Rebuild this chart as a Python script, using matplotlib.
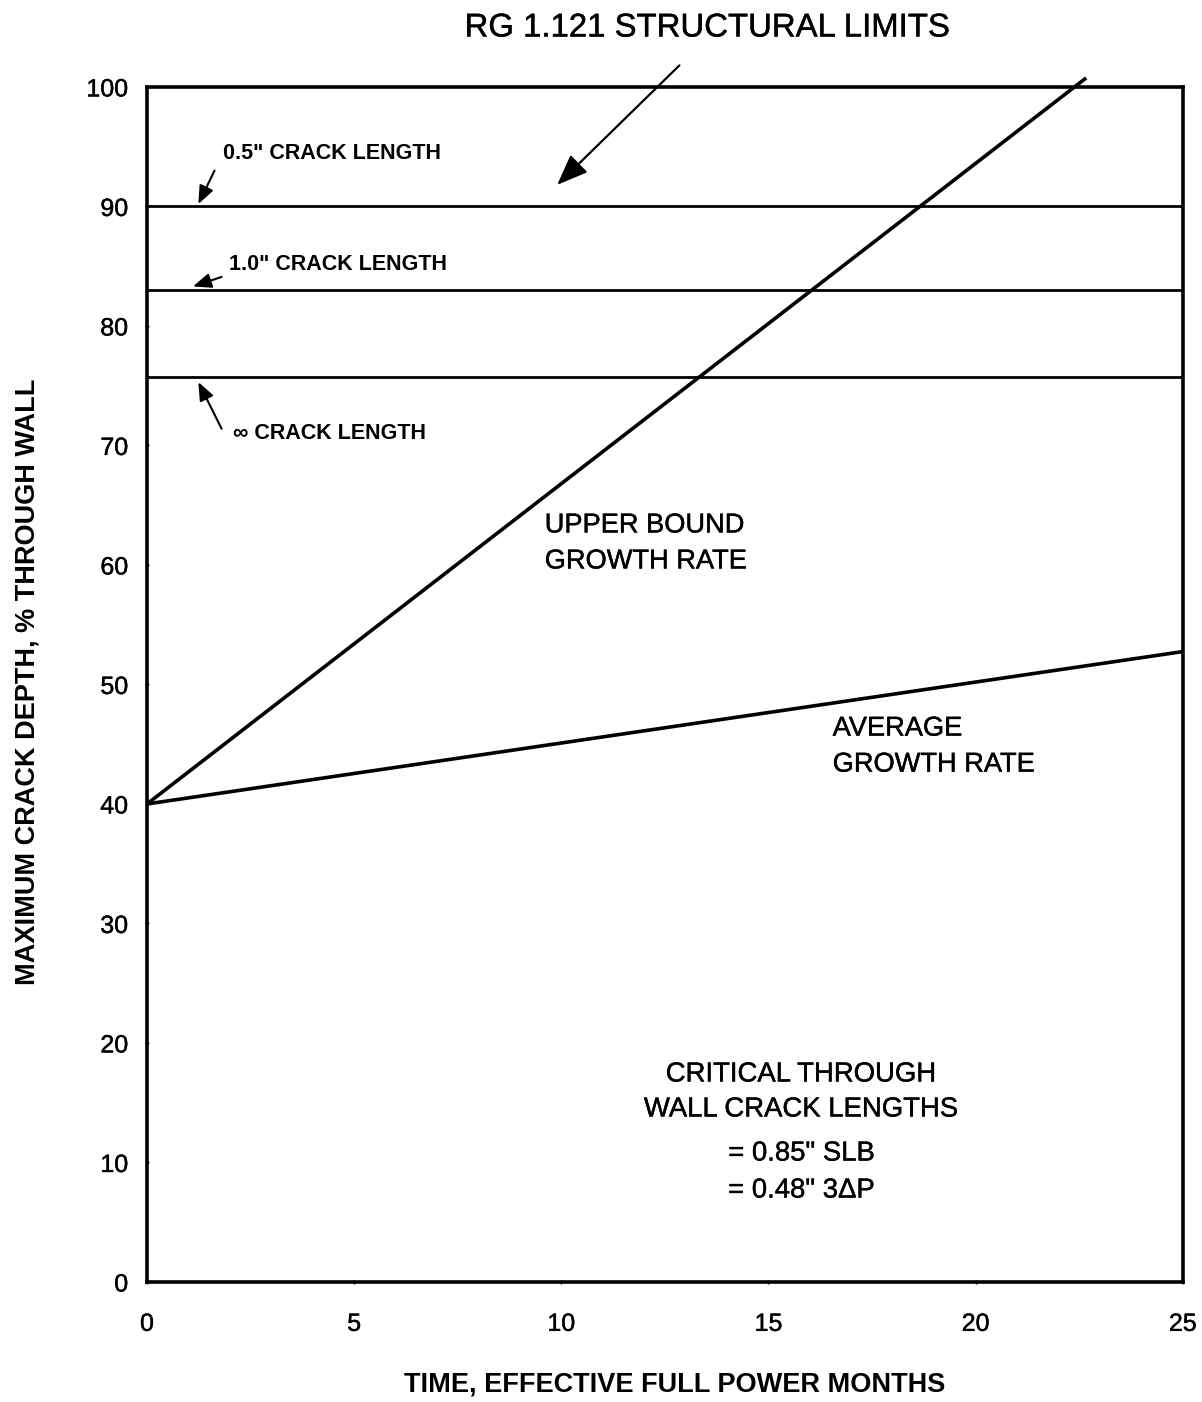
import matplotlib
matplotlib.use("Agg")
import matplotlib.pyplot as plt
import matplotlib.patheffects as pe
import numpy as np

plt.rcParams['font.family'] = ['Liberation Sans', 'DejaVu Sans']

# Crack growth projections (% through wall vs. EFPM)
initial_depth = 40.0
upper_bound_rate = 2.68     # % per month
average_rate = 0.51         # % per month
upper_end_month = 22.67
average_end_month = 25.0

# Structural limits (% through wall) for each crack length
limit_labels = ['0.5" CRACK LENGTH', '1.0" CRACK LENGTH', '\u221e CRACK LENGTH']
limit_depths = [90.0, 83.0, 75.7]

x_ticks = [0, 5, 10, 15, 20, 25]
y_ticks = [0, 10, 20, 30, 40, 50, 60, 70, 80, 90, 100]

# slightly heavier strokes for the regular-weight lettering
heavy = [pe.withStroke(linewidth=0.3, foreground='black')]

fig = plt.figure(figsize=(12.02, 14.02), dpi=100)
ax = fig.add_axes([0.1223, 0.0856, 0.8617, 0.8524])
ax.set_xlim(0, 25)
ax.set_ylim(0, 100)

for d in limit_depths:
    ax.axhline(d, color='black', lw=2.0)

t_up = np.array([0.0, upper_end_month])
ax.plot(t_up, initial_depth + upper_bound_rate * t_up, color='black', lw=2.6,
        clip_on=False, solid_capstyle='butt')
t_av = np.array([0.0, average_end_month])
ax.plot(t_av, initial_depth + average_rate * t_av, color='black', lw=2.6)

for s in ax.spines.values():
    s.set_linewidth(2.6)

ax.set_xticks(x_ticks)
ax.set_yticks(y_ticks)
ax.tick_params(length=3, width=1, direction='inout', labelsize=18)
ax.tick_params(axis='y', pad=12)
ax.tick_params(axis='x', pad=20)
for lab in ax.get_xticklabels() + ax.get_yticklabels():
    lab.set_path_effects(heavy)

# Axis titles
fig.text(675 / 1202, 1 - 1385 / 1402, 'TIME, EFFECTIVE FULL POWER MONTHS',
         fontsize=19.5, fontweight='bold', ha='center', va='center')
fig.text(28 / 1202, 1 - 682 / 1402, 'MAXIMUM CRACK DEPTH, % THROUGH WALL',
         fontsize=19.5, fontweight='bold', ha='center', va='center', rotation=90)

# Title annotation with arrow to the limit lines
fig.text(707 / 1202, 1 - 28 / 1402, 'RG 1.121 STRUCTURAL LIMITS', fontsize=23.7,
         ha='center', va='center', path_effects=heavy)
ax.annotate('', xy=(9.9, 91.8), xytext=(12.85, 101.8), xycoords='data',
            annotation_clip=False,
            arrowprops=dict(arrowstyle='-|>,head_length=1.9,head_width=0.75',
                            color='black', lw=1.6, shrinkA=0, shrinkB=0))

# Crack length labels with pointing arrows
label_pos = [(1.84, 94.4), (1.98, 85.1), (2.08, 71.0)]
arrow_from = [(1.63, 93.0), (1.8, 84.1), (1.8, 71.4)]
arrow_to = [(1.24, 90.2), (1.11, 83.3), (1.24, 75.3)]
for lab, (tx, ty), (fx, fy), (ex, ey) in zip(limit_labels, label_pos, arrow_from, arrow_to):
    ax.text(tx, ty, lab, fontsize=15.5, fontweight='bold', ha='left', va='center')
    ax.annotate('', xy=(ex, ey), xytext=(fx, fy),
                arrowprops=dict(arrowstyle='-|>,head_length=1.1,head_width=0.45',
                                color='black', lw=1.5, shrinkA=0, shrinkB=0))

ax.text(9.6, 61.8, 'UPPER BOUND\nGROWTH RATE', fontsize=19.6, ha='left', va='center',
        linespacing=1.5, path_effects=heavy)
ax.text(16.55, 44.8, 'AVERAGE\nGROWTH RATE', fontsize=19.6, ha='left', va='center',
        linespacing=1.5, path_effects=heavy)
ax.text(15.78, 15.9, 'CRITICAL THROUGH\nWALL CRACK LENGTHS', fontsize=19.8, ha='center',
        va='center', linespacing=1.45, path_effects=heavy)
ax.text(15.8, 9.2, '= 0.85" SLB\n= 0.48" 3\u0394P', fontsize=19.8, ha='center',
        va='center', linespacing=1.55, path_effects=heavy)

fig.savefig('out.png', dpi=100, facecolor='white')
